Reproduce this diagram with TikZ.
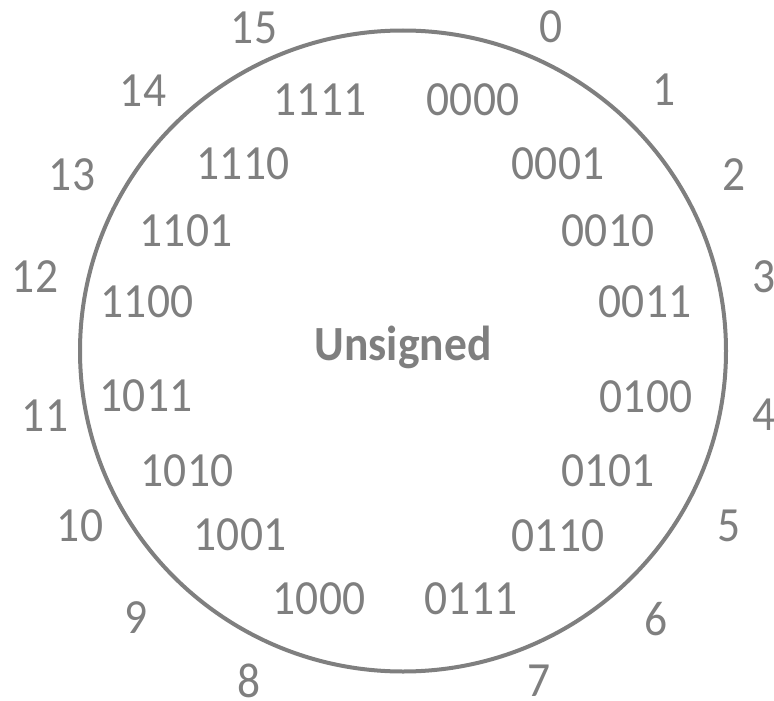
\documentclass[tikz,border=0pt]{standalone}
\usepackage{fontspec}
\usetikzlibrary{shapes.geometric}
\setmainfont{Carlito}
\definecolor{tg}{HTML}{7F7F7F}
\newcommand{\tall}[1]{\scalebox{1}[1.08]{#1}}
\begin{document}
\begin{tikzpicture}[x=1pt,y=-1pt,
  lbl/.style={text=tg,font=\fontsize{45.5}{48}\selectfont,inner sep=0pt,anchor=center},
  ring/.style={draw=tg,line width=4pt}]
\useasboundingbox (0,0) rectangle (774,701);
\node[ring,ellipse,minimum width=646pt,minimum height=641pt,inner sep=0pt] (c) at (403,351) {};
\node[lbl,font=\fontsize{45.5}{48}\selectfont\bfseries] (u) at (403,347) {\tall{Unsigned}};
% outer numbers
\node[lbl] (o0) at (551,27) {\tall{0}};
\node[lbl] (o1) at (664,90) {\tall{1}};
\node[lbl] (o2) at (734,175) {\tall{2}};
\node[lbl] (o3) at (764,277) {\tall{3}};
\node[lbl] (o4) at (764,415) {\tall{4}};
\node[lbl] (o5) at (729,526) {\tall{5}};
\node[lbl] (o6) at (656,619) {\tall{6}};
\node[lbl] (o7) at (539,681) {\tall{7}};
\node[lbl] (o8) at (249,681) {\tall{8}};
\node[lbl] (o9) at (136,618) {\tall{9}};
\node[lbl] (o10) at (80,526) {\tall{10}};
\node[lbl] (o11) at (45,416) {\tall{11}};
\node[lbl] (o12) at (35,277) {\tall{12}};
\node[lbl] (o13) at (72,175) {\tall{13}};
\node[lbl] (o14) at (143,91) {\tall{14}};
\node[lbl] (o15) at (254,28) {\tall{15}};
% inner binary
\node[lbl] (b0) at (473,100) {\tall{0000}};
\node[lbl] (b1) at (558,164) {\tall{0001}};
\node[lbl] (b2) at (608,231) {\tall{0010}};
\node[lbl] (b3) at (645,302) {\tall{0011}};
\node[lbl] (b4) at (646,397) {\tall{0100}};
\node[lbl] (b5) at (608,471) {\tall{0101}};
\node[lbl] (b6) at (558,536) {\tall{0110}};
\node[lbl] (b7) at (471,599) {\tall{0111}};
\node[lbl] (b8) at (319,599) {\tall{1000}};
\node[lbl] (b9) at (240,535) {\tall{1001}};
\node[lbl] (b10) at (187,471) {\tall{1010}};
\node[lbl] (b11) at (146,396) {\tall{1011}};
\node[lbl] (b12) at (147,302) {\tall{1100}};
\node[lbl] (b13) at (186,231) {\tall{1101}};
\node[lbl] (b14) at (243,164) {\tall{1110}};
\node[lbl] (b15) at (320,100) {\tall{1111}};
\end{tikzpicture}
\end{document}
